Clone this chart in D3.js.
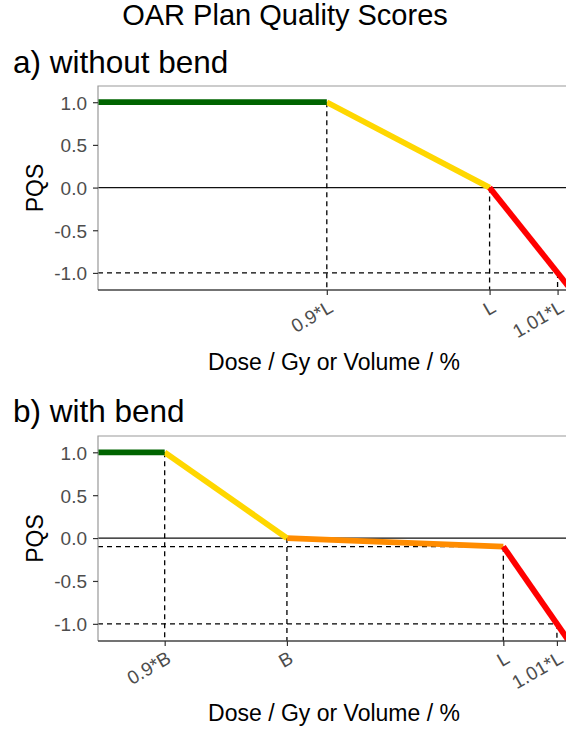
<!DOCTYPE html>
<html><head><meta charset="utf-8">
<script src="https://cdn.jsdelivr.net/npm/d3@7"></script>
<style>body{margin:0;background:#fff}svg{display:block}text{font-family:"Liberation Sans",Arial,sans-serif}</style>
</head><body>
<script>
// ---- data (x in arbitrary dose units, y = PQS) ----
const yTicks = [1.0, 0.5, 0.0, -0.5, -1.0];
const yTickLabels = ["1.0", "0.5", "0.0", "-0.5", "-1.0"];
const xDomain = [0, 7.22];
const yDomain = [-1.2, 1.19];

// panel a
const aTickX = [3.5, 5.99, 7.03];
const aTickLabels = ["0.9*L", "L", "1.01*L"];
const aGreen = [[0, 1], [3.5, 1]];
const aYellow = [[3.5, 1], [5.99, 0]];
const aOrange = [];
const aRed = [[5.99, 0], [7.22, -1.18]];
const aVDash = [[3.5, 1], [5.99, 0], [7.03, -1]];   // vertical guides from point down
const aHDash = [[7.03, -1]];                         // horizontal guides from left to point

// panel b
const bTickX = [1.02, 2.89, 6.20, 7.02];
const bTickLabels = ["0.9*B", "B", "L", "1.01*L"];
const bGreen = [[0, 1], [1.02, 1]];
const bYellow = [[1.02, 1], [2.89, 0]];
const bOrange = [[2.89, 0], [6.20, -0.1]];
const bRed = [[6.20, -0.1], [7.22, -1.22]];
const bVDash = [[1.02, 1], [2.89, 0], [6.20, -0.1], [7.02, -1]];
const bHDash = [[6.20, -0.1], [7.02, -1]];

const W = 566, H = 729;
const svg = d3.select("body").append("svg").attr("width", W).attr("height", H);

svg.append("text").attr("x", 285).attr("y", 25).attr("text-anchor", "middle")
  .style("font-size", "29px").attr("fill", "#000").text("OAR Plan Quality Scores");

const colors = {green: "#006400", yellow: "#FFD700", orange: "#FF8C00", red: "#FF0000"};

function panel(cfg) {
  const left = 98, right = 570;
  const x = d3.scaleLinear().domain(xDomain).range([left, right]);
  const y = d3.scaleLinear().domain(yDomain).range([cfg.bottom, cfg.top]);

  svg.append("text").attr("x", 13).attr("y", cfg.subY).style("font-size", "31.5px")
    .attr("fill", "#000").text(cfg.subtitle);

  const clipId = "clip" + cfg.id;
  svg.append("clipPath").attr("id", clipId).append("rect")
    .attr("x", left).attr("y", cfg.top).attr("width", right - left).attr("height", cfg.bottom - cfg.top);

  const g = svg.append("g").attr("clip-path", `url(#${clipId})`);

  // zero line
  g.append("line").attr("x1", left).attr("x2", right).attr("y1", y(0)).attr("y2", y(0))
    .attr("stroke", "#111").attr("stroke-width", 1.3);

  // dashed guides
  cfg.vdash.forEach(p => g.append("line").attr("x1", x(p[0])).attr("x2", x(p[0]))
    .attr("y1", y(p[1])).attr("y2", cfg.bottom).attr("stroke", "#000")
    .attr("stroke-width", 1.3).attr("stroke-dasharray", "5,4"));
  cfg.hdash.forEach(p => g.append("line").attr("x1", left).attr("x2", x(p[0]))
    .attr("y1", y(p[1])).attr("y2", y(p[1])).attr("stroke", "#000")
    .attr("stroke-width", 1.3).attr("stroke-dasharray", "5,4"));

  const line = d3.line().x(d => x(d[0])).y(d => y(d[1]));
  [["orange", cfg.orange], ["yellow", cfg.yellow], ["green", cfg.green], ["red", cfg.red]].forEach(([c, pts]) => {
    if (pts.length) g.append("path").attr("d", line(pts)).attr("fill", "none")
      .attr("stroke", colors[c]).attr("stroke-width", 5.8);
  });

  // frame
  svg.append("path").attr("d", `M${left},${cfg.bottom}V${cfg.top}H${right}`)
    .attr("fill", "none").attr("stroke", "#999").attr("stroke-width", 1.2);
  svg.append("line").attr("x1", left).attr("x2", right).attr("y1", cfg.bottom).attr("y2", cfg.bottom)
    .attr("stroke", "#444").attr("stroke-width", 1.3);

  // y axis
  const ya = svg.append("g").attr("transform", `translate(${left},0)`)
    .call(d3.axisLeft(y).tickValues(yTicks).tickFormat((d, i) => yTickLabels[i]).tickSize(5).tickPadding(6));
  ya.select(".domain").remove();
  ya.selectAll(".tick line").attr("stroke", "#333").attr("stroke-width", 1.2);
  ya.selectAll(".tick text").style("font-size", "19px").attr("fill", "#4d4d4d")
    .style("font-family", "Liberation Sans, Arial, sans-serif").attr("dy", "0.36em");

  // x axis
  const xa = svg.append("g").attr("transform", `translate(0,${cfg.bottom})`)
    .call(d3.axisBottom(x).tickValues(cfg.ticks).tickFormat((d, i) => cfg.tickLabels[i]).tickSize(5));
  xa.select(".domain").remove();
  xa.selectAll(".tick line").attr("stroke", "#333").attr("stroke-width", 1.2);
  xa.selectAll(".tick text").style("font-size", "19px").attr("fill", "#4d4d4d")
    .style("font-family", "Liberation Sans, Arial, sans-serif")
    .attr("text-anchor", "end").attr("y", 0).attr("dy", 0)
    .attr("transform", "translate(7,21) rotate(-30)");

  // axis titles
  svg.append("text").attr("x", (left + right) / 2).attr("y", cfg.bottom + 80)
    .attr("text-anchor", "middle").style("font-size", "23px").attr("fill", "#000")
    .text("Dose / Gy or Volume / %");
  svg.append("text").attr("transform", `translate(43,${(cfg.top + cfg.bottom) / 2}) rotate(-90)`)
    .attr("text-anchor", "middle").style("font-size", "23px").attr("fill", "#000").text("PQS");
}

panel({id: "a", top: 86, bottom: 290, subY: 73, subtitle: "a) without bend", ticks: aTickX, tickLabels: aTickLabels,
  green: aGreen, yellow: aYellow, orange: aOrange, red: aRed, vdash: aVDash, hdash: aHDash});
panel({id: "b", top: 436, bottom: 641, subY: 422, subtitle: "b) with bend", ticks: bTickX, tickLabels: bTickLabels,
  green: bGreen, yellow: bYellow, orange: bOrange, red: bRed, vdash: bVDash, hdash: bHDash});
</script>
</body></html>
